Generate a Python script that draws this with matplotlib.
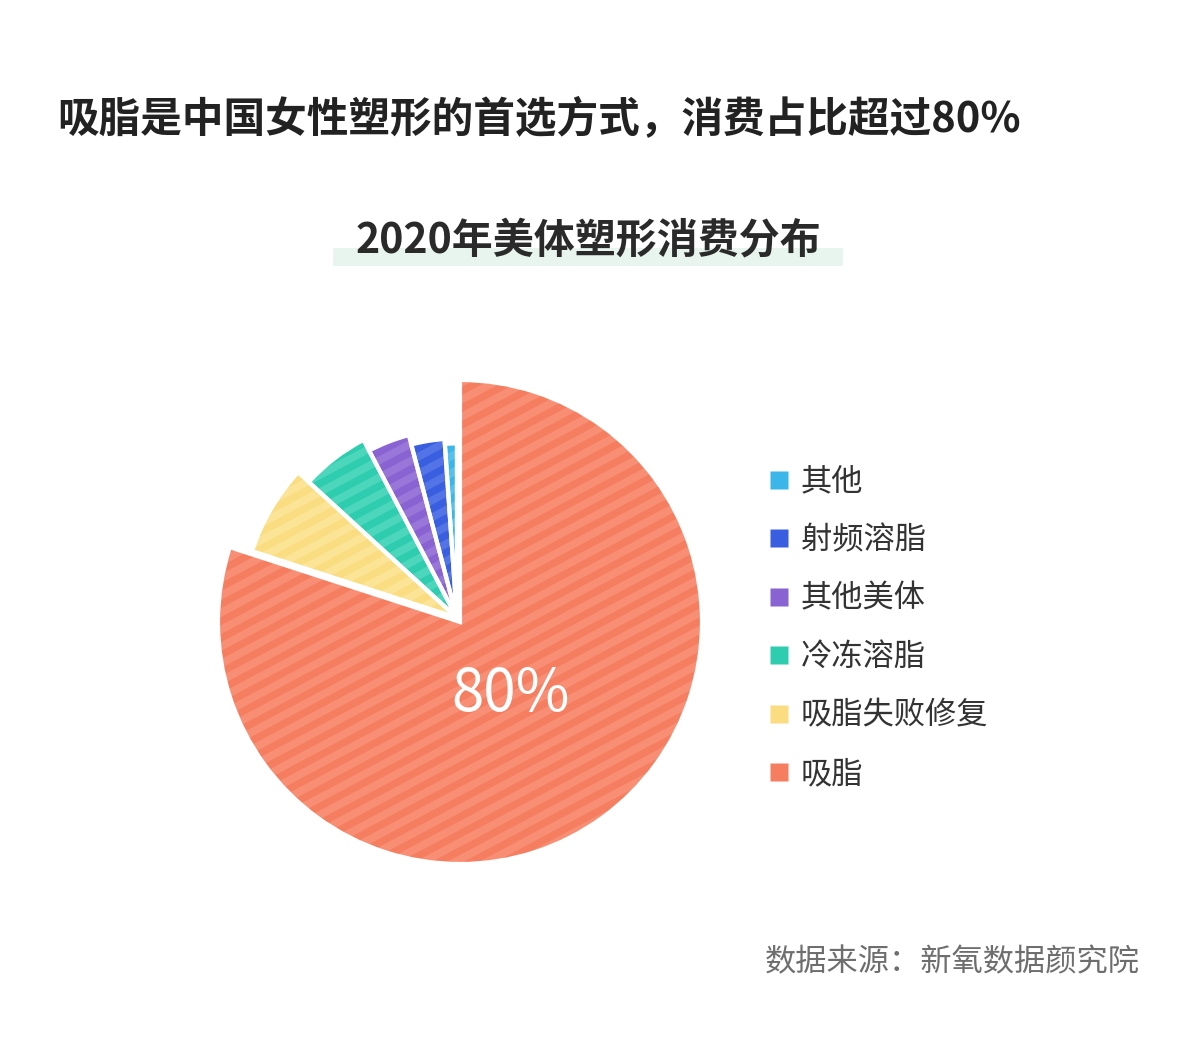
import numpy as np
import matplotlib.pyplot as plt
from matplotlib.patches import Wedge, Rectangle
from matplotlib.lines import Line2D

plt.rcParams['font.family'] = ['Noto Sans CJK SC', 'DejaVu Sans']

# data (clockwise from 12 o'clock)
categories = ['吸脂', '吸脂失败修复', '冷冻溶脂', '其他美体', '射频溶脂', '其他']
shares = [80.0, 6.8, 5.5, 3.6, 3.0, 1.1]
radii = [1.0, 0.89, 0.83, 0.78, 0.74, 0.72]
colors = ['#F57E60', '#F9DD80', '#2ECDB0', '#8A63D2', '#3A5EE0', '#3BB6E8']
stripe_colors = ['#F99379', '#FCE69A', '#52D8BF', '#9C7BDB', '#5878E8', '#5DC4EE']

title = '吸脂是中国女性塑形的首选方式，消费占比超过80%'
subtitle = '2020年美体塑形消费分布'
source = '数据来源：新氧数据颜究院'

W, H = 1200, 1064
fig = plt.figure(figsize=(12, 10.64), dpi=100)
fig.patch.set_facecolor('white')

# pie axes: centre at (460, 622) px, radius 1 -> 242 px
cx, cy, half = 460, 622, 300
ax = fig.add_axes([(cx - half) / W, (H - cy - half) / H, 2 * half / W, 2 * half / H])
lim = half / 242
ax.set_xlim(-lim, lim)
ax.set_ylim(-lim, lim)
ax.set_aspect('equal')
ax.axis('off')

start = 90.0
explode = 0.022
for i, (cat, v, r) in enumerate(zip(categories, shares, radii)):
    span = v / 100 * 360
    t1, t2 = start - span, start
    if i == 0:
        c = (0, 0)
    else:
        mid = np.deg2rad(126)
        c = (explode * np.cos(mid), explode * np.sin(mid))
    w = Wedge(c, r, t1, t2, facecolor=colors[i], edgecolor='none', zorder=2)
    ax.add_patch(w)
    # diagonal stripes
    ang = np.deg2rad(28)
    d = np.array([np.cos(ang), np.sin(ang)])
    n = np.array([-d[1], d[0]])
    for k in np.arange(-1.3, 1.3, 0.062):
        p0 = n * k - d * 1.5
        p1 = n * k + d * 1.5
        ln, = ax.plot([p0[0], p1[0]], [p0[1], p1[1]], color=stripe_colors[i],
                      lw=5.5, alpha=0.85, zorder=3, solid_capstyle='butt')
        ln.set_clip_path(w)
    ax.add_patch(Wedge(c, r, t1, t2, facecolor='none', edgecolor='white',
                       lw=3, zorder=4))
    start = t1

ax.text(0.21, -0.3, '80%', color='white', fontsize=42, fontweight='medium',
        ha='center', va='center', zorder=5)

# titles
fig.text(57 / W, 1 - 119 / H, title, fontsize=30, fontweight='bold',
         color='#222222', ha='left', va='center')
fig.patches.append(Rectangle((333 / W, 1 - 266 / H), (843 - 333) / W, 18 / H,
                             transform=fig.transFigure, facecolor='#E7F5EE',
                             edgecolor='none', zorder=0))
fig.text(588 / W, 1 - 240 / H, subtitle, fontsize=29.5, fontweight='bold',
         color='#2a2a2a', ha='center', va='center', zorder=2)

# legend (reverse order: 其他 on top)
handles = [Line2D([], [], marker='s', linestyle='none', markersize=13,
                  markerfacecolor=colors[i], markeredgecolor='none')
           for i in range(len(categories))][::-1]
fig.legend(handles, categories[::-1], loc='upper left',
           bbox_to_anchor=(754 / W, 1 - 453 / H), frameon=False,
           fontsize=22.5, labelcolor='#333333', handlelength=0.8,
           handletextpad=0.3, labelspacing=0.85, borderaxespad=0)

fig.text(1140 / W, 1 - 962 / H, source, fontsize=22.5, color='#6e6e6e',
         ha='right', va='center')

fig.savefig('out.png', dpi=100, facecolor='white')
